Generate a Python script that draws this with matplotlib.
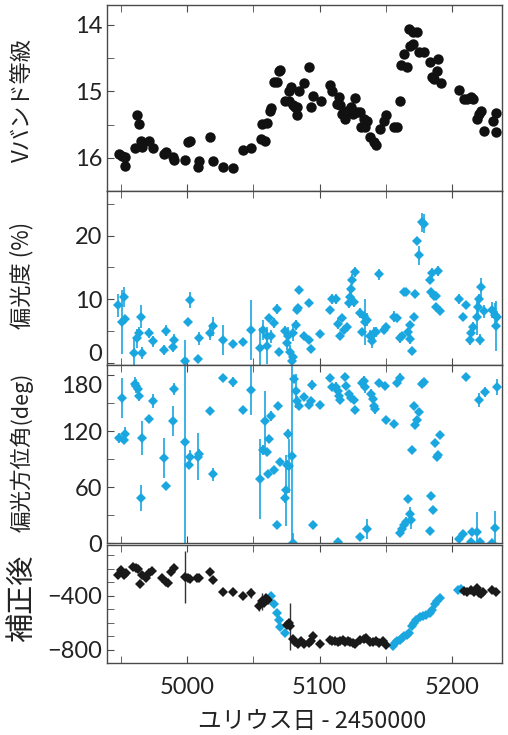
import matplotlib
matplotlib.use("Agg")
import matplotlib.pyplot as plt
import matplotlib.transforms as mtransforms
from matplotlib.ticker import MultipleLocator

plt.rcParams['font.family'] = ['Lato', 'Noto Sans CJK JP', 'DejaVu Sans']

BLUE = '#1aa7e0'
EDGE = '#4a4a4a'

# ---------------- Panel 1: V-band magnitude ----------------
jd_v = [4948.5, 4951.0, 4952.8, 4953.3, 4960.4, 4962.4, 4963.4, 4965.4, 4966.2, 4971.2,
        4974.2, 4982.3, 4984.3, 4988.9, 4989.9, 4998.2, 5000.8, 5002.5, 5008.1, 5009.1,
        5017.2, 5019.2, 5027.3, 5034.8, 5041.9, 5048.0, 5055.6, 5059.1, 5056.8, 5060.1,
        5062.6, 5063.1, 5065.7, 5067.7, 5069.7, 5070.2, 5074.2, 5076.8, 5077.3, 5078.3,
        5079.8, 5081.8, 5082.8, 5083.3, 5084.8, 5087.9, 5092.4, 5093.4, 5094.9, 5101.0,
        5108.1, 5109.3, 5113.1, 5114.4, 5115.2, 5116.9, 5119.4, 5120.7, 5123.7, 5125.3,
        5126.8, 5128.3, 5130.8, 5131.3, 5133.3, 5135.9, 5134.6, 5138.4, 5140.9, 5142.4,
        5145.5, 5149.0, 5150.5, 5156.1, 5158.6, 5160.6, 5161.6, 5163.6, 5166.2, 5168.7,
        5170.5, 5167.4, 5170.7, 5173.7, 5175.0, 5178.8, 5183.8, 5185.1, 5186.4, 5189.4,
        5188.9, 5191.9, 5205.6, 5209.1, 5211.6, 5214.1, 5216.2, 5218.7, 5220.5, 5222.2,
        5224.2, 5231.3, 5233.3, 5233.1]
vmag = [15.94, 15.97, 15.99, 16.13, 15.85, 15.36, 15.49, 15.74, 15.84, 15.75,
        15.85, 15.95, 15.92, 15.99, 16.04, 16.03, 15.76, 15.75, 16.14, 16.05,
        15.68, 16.05, 16.14, 16.16, 15.89, 15.86, 15.71, 15.74, 15.49, 15.48,
        15.29, 15.25, 14.86, 14.86, 14.70, 14.68, 15.14, 15.15, 14.99, 14.94,
        15.20, 15.24, 15.36, 15.23, 14.99, 14.88, 14.64, 15.23, 15.07, 15.15,
        14.91, 14.99, 15.19, 15.09, 15.21, 15.34, 15.41, 15.29, 15.24, 15.34,
        15.10, 15.31, 15.31, 15.54, 15.41, 15.44, 15.54, 15.69, 15.76, 15.80,
        15.56, 15.45, 15.36, 15.54, 15.54, 15.15, 14.60, 14.44, 14.64, 14.31,
        14.29, 14.06, 14.11, 14.10, 14.41, 14.41, 14.56, 14.79, 14.81, 14.52,
        14.69, 14.88, 14.98, 15.11, 15.12, 15.09, 15.11, 15.41, 15.34, 15.30,
        15.59, 15.45, 15.61, 15.33]

# ---------------- Panel 2: polarization degree (%) ----------------
jd_p = [4947.7, 4951.0, 4952.0, 4953.3, 4960.1, 4962.1, 4963.6, 4965.4, 4966.2, 4971.2,
        4974.2, 4982.3, 4984.3, 4989.4, 4990.2, 4998.2, 5000.8, 5002.0, 5007.8, 5009.1,
        5017.2, 5019.2, 5027.3, 5034.8, 5041.9, 5048.0, 5055.1, 5057.1, 5060.1, 5060.6,
        5062.1, 5063.1, 5065.7, 5068.2, 5069.7, 5074.0, 5075.3, 5076.5, 5077.8, 5079.0,
        5079.8, 5080.3, 5082.3, 5083.3, 5084.1, 5084.8, 5087.9, 5091.7, 5092.4, 5093.7,
        5100.5, 5107.6, 5109.3, 5112.6, 5113.6, 5115.2, 5116.9, 5118.2, 5120.7, 5122.0,
        5122.7, 5123.7, 5124.5, 5127.0, 5126.3, 5130.8, 5132.1, 5133.3, 5134.6, 5135.9,
        5138.4, 5139.6, 5140.9, 5142.9, 5144.7, 5149.0, 5150.5, 5156.1, 5158.6, 5160.6,
        5162.4, 5163.6, 5165.7, 5166.7, 5168.2, 5168.7, 5170.0, 5171.2, 5172.5, 5173.7,
        5175.0, 5177.5, 5179.3, 5183.8, 5185.1, 5184.6, 5186.4, 5188.4, 5189.4, 5188.4,
        5191.4, 5205.3, 5208.6, 5210.4, 5213.6, 5214.6, 5215.7, 5218.7, 5219.7, 5220.5,
        5221.2, 5221.7, 5224.2, 5230.6, 5232.3, 5233.1, 5234.3]
pol = [9.1, 6.5, 10.4, 6.9, 1.6, 3.9, 4.7, 7.3, 1.6, 4.7,
       3.4, 2.1, 5.1, 2.6, 3.7, 0.4, 6.5, 9.9, 0.7, 3.9,
       4.7, 5.8, 3.6, 3.0, 3.3, 5.2, 2.4, 5.2, 4.2, 2.7,
       7.0, 4.2, 6.3, 8.5, 1.8, 5.0, 3.1, 4.3, 1.8, 0.3,
       4.7, 1.0, 6.0, 8.3, 8.6, 11.5, 4.3, 9.4, 3.6, 2.2,
       4.5, 8.3, 10.1, 10.1, 6.2, 4.3, 7.1, 5.2, 5.7, 9.4,
       10.4, 11.6, 13.1, 14.3, 9.6, 7.8, 4.8, 7.4, 6.5, 6.8,
       4.2, 3.4, 4.7, 4.9, 13.9, 5.2, 5.7, 7.3, 7.1, 3.9,
       4.2, 11.2, 11.2, 4.9, 6.0, 3.8, 1.9, 7.3, 10.8, 19.2,
       16.9, 22.1, 21.9, 13.0, 14.1, 11.2, 10.6, 10.5, 14.4, 8.8,
       8.2, 10.1, 7.3, 9.1, 3.7, 4.7, 5.7, 7.3, 8.8, 10.1,
       3.7, 11.9, 8.1, 8.3, 7.5, 5.8, 7.3]
pol_err = [1.8, 5.0, 1.6, 0.5, 2.5, 1.5, 1.0, 1.8, 1.0, 0.8,
           0.8, 0.8, 0.8, 0.8, 0.8, 3.2, 0.5, 1.2, 0.4, 1.0,
           1.0, 1.5, 2.4, 0.4, 0.5, 4.7, 3.1, 1.5, 1.0, 2.9,
           0.6, 1.0, 0.8, 0.8, 0.5, 0.8, 1.0, 1.3, 1.0, 0.8,
           1.3, 0.8, 0.8, 0.5, 0.5, 0.5, 0.4, 0.4, 0.5, 0.5,
           0.4, 0.4, 0.8, 0.8, 0.8, 0.5, 0.5, 0.5, 0.5, 0.8,
           0.8, 0.8, 0.8, 0.8, 0.8, 0.8, 0.5, 0.5, 3.6, 1.0,
           1.0, 1.0, 1.0, 0.8, 0.8, 0.5, 0.6, 0.8, 0.5, 0.8,
           0.5, 0.4, 0.4, 0.5, 0.5, 0.8, 0.5, 0.5, 0.4, 0.5,
           1.5, 1.5, 1.5, 0.5, 0.8, 0.5, 0.5, 0.4, 0.8, 0.5,
           0.4, 0.8, 0.5, 0.4, 0.8, 0.8, 0.8, 2.9, 1.5, 0.8,
           0.8, 1.5, 1.0, 1.3, 2.0, 3.9, 0.8]

# ---------------- Panel 3: polarization angle (deg) ----------------
jd_a = [4948.2, 4951.0, 4952.0, 4953.3, 4960.4, 4961.6, 4962.9, 4963.6, 4965.4, 4966.2,
        4971.2, 4974.2, 4982.3, 4984.3, 4989.4, 4989.9, 4998.2, 5001.5, 5002.5, 5007.8,
        5009.1, 5017.2, 5019.2, 5027.3, 5034.8, 5041.9, 5048.0, 5055.1, 5057.1, 5058.8,
        5060.1, 5061.4, 5063.1, 5062.1, 5065.7, 5067.7, 5068.9, 5070.2, 5074.0, 5074.7,
        5075.8, 5076.5, 5077.3, 5079.0, 5080.3, 5080.8, 5082.3, 5083.3, 5084.8, 5087.9,
        5091.7, 5093.4, 5094.2, 5094.9, 5100.5, 5107.6, 5109.3, 5112.6, 5113.6, 5114.6,
        5115.7, 5113.9, 5119.4, 5120.2, 5122.0, 5123.7, 5125.8, 5127.0, 5130.8, 5132.1,
        5133.3, 5134.6, 5135.9, 5138.9, 5140.4, 5141.4, 5142.2, 5144.7, 5149.7, 5150.5,
        5156.1, 5158.6, 5160.6, 5161.1, 5162.4, 5164.1, 5165.7, 5166.7, 5168.2, 5169.2,
        5170.0, 5171.2, 5172.5, 5173.7, 5175.0, 5177.5, 5179.3, 5183.8, 5184.6, 5185.6,
        5187.6, 5188.9, 5189.6, 5191.4, 5205.3, 5208.6, 5210.4, 5214.1, 5215.4, 5218.7,
        5220.5, 5221.2, 5224.7, 5230.6, 5232.6, 5233.8]
ang = [112.6, 155.8, 110.7, 117.2, 171.0, 168.5, 165.6, 157.6, 48.3, 112.6,
       133.0, 152.2, 91.6, 61.3, 130.6, 164.9, 107.9, 83.7, 92.7, 92.7,
       95.6, 142.1, 73.6, 177.5, 172.8, 142.5, 164.1, 68.5, 99.9, 130.6,
       98.1, 73.6, 136.0, 111.5, 78.3, 19.5, 146.8, 87.3, 48.7, 56.6,
       83.7, 117.2, 82.6, 93.8, 0.0, 175.7, 163.0, 152.2, 146.8, 157.0,
       148.6, 152.2, 169.2, 19.5, 148.6, 177.5, 167.7, 167.7, 163.0, 157.6,
       153.3, 0.7, 178.6, 168.5, 159.5, 155.8, 153.3, 143.2, 6.9, 171.4,
       173.9, 167.7, 15.2, 159.5, 154.0, 146.8, 143.9, 172.1, 168.5, 132.4,
       127.7, 171.4, 177.5, 10.8, 15.2, 18.8, 22.4, 47.6, 31.4, 24.2,
       99.9, 147.5, 127.0, 132.4, 140.3, 170.3, 172.8, 12.6, 50.1, 35.7,
       107.1, 92.7, 94.5, 116.2, 4.3, 9.7, 178.2, 0.7, 12.3, 11.5,
       153.3, 0.7, 162.0, 0.0, 15.9, 167.4]
ang_err = [5.4, 21.6, 4.3, 7.2, 7.2, 7.2, 7.2, 5.4, 14.4, 18.0,
           3.6, 7.2, 21.6, 4.3, 16.0, 6.5, 110.0, 4.3, 7.2, 25.0,
           5.4, 3.0, 7.2, 3.6, 5.4, 3.6, 27.0, 43.0, 5.4, 32.0,
           3.6, 4.3, 5.4, 3.6, 3.6, 3.0, 3.6, 4.3, 5.4, 38.0,
           5.4, 5.4, 29.0, 100.0, 10.8, 3.6, 18.0, 5.4, 4.3, 3.0,
           3.6, 3.6, 5.4, 3.0, 3.0, 3.0, 3.6, 5.4, 3.6, 3.6,
           3.6, 3.0, 3.0, 3.6, 3.6, 3.6, 3.6, 3.6, 3.0, 5.4,
           5.4, 7.2, 10.8, 5.4, 5.4, 5.4, 5.4, 3.0, 3.0, 3.0,
           4.3, 3.6, 5.4, 3.0, 3.0, 3.6, 5.4, 4.3, 7.2, 9.0,
           3.6, 3.6, 3.6, 3.6, 3.6, 3.0, 3.0, 3.0, 3.0, 3.0,
           3.0, 3.0, 3.0, 3.0, 3.0, 3.0, 3.0, 3.0, 3.0, 21.6,
           7.2, 3.6, 5.4, 3.0, 18.0, 9.0]

# ---------------- Panel 4: corrected angle (black and blue) ----------------
jd_cb = [4947.7, 4950.3, 4952.0, 4953.5, 4959.1, 4961.1, 4962.9, 4964.6, 4966.2, 4968.7,
         4971.2, 4973.7, 4981.3, 4984.3, 4985.6, 4988.1, 4989.9, 4998.2, 5000.8, 5002.5,
         5007.6, 5009.1, 5017.2, 5019.7, 5027.3, 5034.8, 5041.9, 5048.0, 5054.5, 5056.3,
         5058.1, 5059.6, 5061.4, 5075.8, 5077.8, 5077.3, 5080.3, 5081.6, 5084.1, 5085.9,
         5088.4, 5091.7, 5093.4, 5094.9, 5100.5, 5107.6, 5109.3, 5111.8, 5113.6, 5115.7,
         5117.7, 5119.4, 5121.2, 5123.2, 5125.3, 5127.0, 5130.8, 5133.3, 5135.4, 5138.4,
         5140.4, 5142.9, 5144.7, 5148.0, 5150.5, 5209.1, 5211.6, 5214.6, 5216.7, 5218.7,
         5220.5, 5222.2, 5223.7, 5230.6, 5233.1]
corr_b = [-244, -207, -244, -232, -183, -190, -200, -314, -244, -269,
          -232, -215, -269, -294, -306, -220, -190, -257, -269, -274,
          -264, -269, -220, -281, -368, -373, -398, -380, -479, -442,
          -454, -417, -430, -615, -627, -602, -721, -743, -756, -738,
          -756, -751, -738, -701, -756, -726, -738, -738, -743, -738,
          -726, -743, -738, -746, -751, -756, -726, -721, -714, -743,
          -746, -733, -751, -738, -763, -363, -368, -356, -368, -343,
          -380, -388, -373, -356, -373]
corr_b_err = [0, 0, 0, 0, 0, 0, 0, 0, 0, 0,
              0, 0, 0, 0, 0, 0, 0, 193, 0, 0,
              0, 0, 0, 0, 0, 0, 0, 37, 37, 62,
              0, 0, 0, 0, 175, 0, 0, 0, 0, 0,
              0, 0, 0, 0, 0, 0, 0, 0, 0, 0,
              0, 0, 0, 0, 0, 0, 0, 0, 0, 0,
              0, 0, 0, 0, 0, 0, 0, 0, 0, 0,
              0, 0, 0, 0, 0]
jd_cl = [5063.1, 5065.7, 5067.7, 5069.2, 5070.2, 5074.0, 5155.6, 5157.3, 5158.6, 5160.6,
         5162.4, 5164.1, 5166.2, 5167.4, 5169.9, 5171.2, 5173.2, 5175.8, 5178.3, 5180.1,
         5183.8, 5185.1, 5186.9, 5188.9, 5191.4, 5204.5, 5206.6]
corr_l = [-405, -462, -528, -578, -635, -677, -775, -751, -738, -726,
          -714, -701, -689, -677, -627, -602, -578, -560, -553, -546,
          -528, -504, -462, -442, -417, -356, -348]

# ---------------- Figure ----------------
W, H = 508, 735
fig = plt.figure(figsize=(W / 100, H / 100), dpi=100)

left = 107 / W
width = (502 - 107) / W

def axes_px(top, bottom):
    return [left, 1 - bottom / H, width, (bottom - top) / H]

ax1 = fig.add_axes(axes_px(5, 191))
ax2 = fig.add_axes(axes_px(191, 365), sharex=ax1)
ax3 = fig.add_axes(axes_px(365, 543), sharex=ax1)
ax4 = fig.add_axes(axes_px(545, 663), sharex=ax1)

ax1.plot(jd_v, vmag, 'o', color='#111111', ms=7.5, mew=0)
ax1.set_ylim(16.5, 13.7)
ax1.yaxis.set_major_locator(MultipleLocator(1))
ax1.yaxis.set_minor_locator(MultipleLocator(0.5))

ekw = dict(fmt='D', color=BLUE, ms=5.5, mew=0, ecolor=BLUE, elinewidth=1.2,
           capsize=3, capthick=1.2)
ax2.errorbar(jd_p, pol, yerr=pol_err, **ekw)
ax2.set_ylim(-0.3, 27)
ax2.yaxis.set_major_locator(MultipleLocator(10))
ax2.yaxis.set_minor_locator(MultipleLocator(5))

ax3.errorbar(jd_a, ang, yerr=ang_err, **ekw)
ax3.set_ylim(0, 191)
ax3.yaxis.set_major_locator(MultipleLocator(60))
ax3.yaxis.set_minor_locator(MultipleLocator(30))

ax4.errorbar(jd_cb, corr_b, yerr=corr_b_err, fmt='D', color='#1a1a1a', ms=5,
             mew=0, ecolor='#333333', elinewidth=1.0, capsize=3, capthick=1.0)
ax4.plot(jd_cl, corr_l, 'D', color=BLUE, ms=5, mew=0)
ax4.set_ylim(-900, -22)
ax4.yaxis.set_major_locator(MultipleLocator(400))
ax4.yaxis.set_minor_locator(MultipleLocator(100))

ax1.set_xlim(4939.4, 5237.9)
ax1.xaxis.set_major_locator(MultipleLocator(100))
ax1.xaxis.set_minor_locator(MultipleLocator(50))

for ax in (ax1, ax2, ax3, ax4):
    for s in ax.spines.values():
        s.set_color(EDGE)
        s.set_linewidth(1.0)
    ax.tick_params(which='both', direction='in', top=True, right=False,
                   color=EDGE, labelsize=17, labelcolor='#222222')
    ax.tick_params(which='major', length=5)
    ax.tick_params(which='minor', length=5)
    if ax is not ax4:
        ax.tick_params(axis='x', labelbottom=False)
    ax.set_facecolor('white')

ax4.tick_params(axis='x', pad=10)

# Shift a few crowded tick labels as in the reference
fig.canvas.draw()
for t in ax2.yaxis.get_major_ticks():
    if abs(t.get_loc()) < 1e-6:
        t.label1.set_transform(t.label1.get_transform() +
                               mtransforms.ScaledTranslation(0, 0.11, fig.dpi_scale_trans))
for t in ax3.yaxis.get_major_ticks():
    if abs(t.get_loc() - 180) < 1e-6:
        t.label1.set_transform(t.label1.get_transform() +
                               mtransforms.ScaledTranslation(0, -0.09, fig.dpi_scale_trans))

jp = ['Noto Sans CJK JP', 'DejaVu Sans']
fig.text(22 / W, 1 - 100 / H, 'Vバンド等級', rotation=90, ha='center', va='center',
         fontsize=16, family=jp, color='#222222')
fig.text(22 / W, 1 - 275 / H, '偏光度 (%)', rotation=90, ha='center', va='center',
         fontsize=16, family=jp, color='#222222')
fig.text(22 / W, 1 - 452 / H, '偏光方位角(deg)', rotation=90, ha='center', va='center',
         fontsize=15.5, family=jp, color='#222222')
fig.text(22 / W, 1 - 598 / H, '補正後', rotation=90, ha='center', va='center',
         fontsize=21, family=jp, color='#222222')
fig.text(312 / W, 1 - 722 / H, 'ユリウス日 - 2450000', ha='center', va='center',
         fontsize=17, family=jp, color='#222222')

fig.savefig('out.png', dpi=100, facecolor='white')
